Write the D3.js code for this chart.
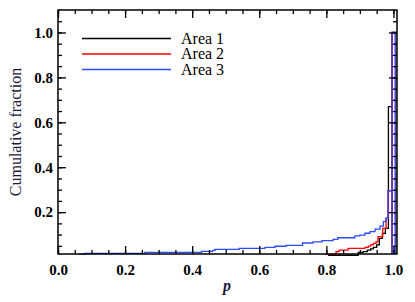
<!DOCTYPE html>
<html>
<head>
<meta charset="utf-8">
<script src="https://cdn.jsdelivr.net/npm/d3@7/dist/d3.min.js"></script>
<style>
  body { margin: 0; background: #fff; }
  .tick text { font-family: "Liberation Serif", serif; font-weight: bold; font-size: 15px; fill: #000; }
</style>
</head>
<body>
<div id="chart"></div>
<script>
const width = 415;
const height = 302;

// series: [p, cumulative fraction] step starts, last entry = final bin
const area1 = [[0.805,0.008],[0.895,0.021],[0.910,0.024],[0.922,0.031],[0.932,0.036],[0.940,0.043],[0.950,0.054],[0.958,0.083],[0.967,0.105],[0.976,0.128],[0.985,0.67],[0.996,1.0]];
const area2 = [[0.796,0.012],[0.829,0.024],[0.838,0.031],[0.865,0.039],[0.915,0.043],[0.925,0.049],[0.932,0.054],[0.940,0.061],[0.948,0.068],[0.954,0.091],[0.968,0.128],[0.978,0.173],[0.984,0.295],[0.996,1.0]];
const area3 = [[0.063,0.012],[0.080,0.0165],[0.259,0.021],[0.428,0.025],[0.461,0.030],[0.468,0.034],[0.540,0.039],[0.617,0.043],[0.647,0.048],[0.680,0.052],[0.729,0.0625],[0.760,0.068],[0.787,0.073],[0.820,0.079],[0.834,0.086],[0.885,0.094],[0.900,0.098],[0.915,0.106],[0.930,0.113],[0.945,0.124],[0.960,0.138],[0.970,0.158],[0.978,0.173],[0.984,0.295],[0.996,1.0]];
const pEnd = 1.006;

const seriesNames = ["Area 1", "Area 2", "Area 3"];
const seriesColors = ["#000000", "#ff0000", "#2b4bff"];
const seriesData = [area1, area2, area3];

const xMajor = [0, 0.2, 0.4, 0.6, 0.8, 1.0];
const yMajor = [0.2, 0.4, 0.6, 0.8, 1.0];
const xMinor = d3.range(0, 1.01, 0.05);
const yMinor = d3.range(0.05, 1.1, 0.05);

const svg = d3.select("#chart").append("svg")
  .attr("width", width)
  .attr("height", height);

const x = d3.scaleLinear().domain([0, 1.0106]).range([58, 397]);
const y = d3.scaleLinear().domain([0.0136, 1.1]).range([254, 10]);

// steps
const stepLine = d3.line().x(d => x(d[0])).y(d => y(d[1])).curve(d3.curveStepAfter);

seriesData.forEach((s, i) => {
  const last = s[s.length - 1];
  const pts = s.slice(0, -1).concat([[last[0], s[s.length - 2][1]]]);
  svg.append("path")
    .attr("d", stepLine(pts))
    .attr("fill", "none")
    .attr("stroke", seriesColors[i])
    .attr("stroke-width", 1.3);
  // last bin drawn as a bar
  svg.append("path")
    .attr("d", d3.line()([[x(last[0]), y.range()[0]], [x(last[0]), y(last[1])], [x(pEnd), y(last[1])], [x(pEnd), y.range()[0]]]))
    .attr("fill", "none")
    .attr("stroke", seriesColors[i])
    .attr("stroke-width", 1.3);
});

// axes
function addAxis(axisFn, pos, scale, vals, size, labels, pad) {
  const a = axisFn(scale).tickValues(vals).tickSize(-size).tickPadding(pad || 3);
  if (!labels) a.tickFormat("");
  else a.tickFormat(d3.format(".1f"));
  const g = svg.append("g").attr("transform", pos).call(a);
  g.select(".domain").remove();
  g.selectAll(".tick line").attr("stroke", "#000").attr("stroke-width", 1.3);
  return g;
}
addAxis(d3.axisBottom, "translate(0,254)", x, xMajor, 8, true, 10);
addAxis(d3.axisBottom, "translate(0,254)", x, xMinor, 4, false);
addAxis(d3.axisTop, "translate(0,10)", x, xMajor, 8, false);
addAxis(d3.axisTop, "translate(0,10)", x, xMinor, 4, false);
addAxis(d3.axisLeft, "translate(58,0)", y, yMajor, 8, true, 5);
addAxis(d3.axisLeft, "translate(58,0)", y, yMinor, 4, false);
addAxis(d3.axisRight, "translate(397,0)", y, yMajor, 8, false);
addAxis(d3.axisRight, "translate(397,0)", y, yMinor, 4, false);

svg.append("rect")
  .attr("x", 58).attr("y", 10)
  .attr("width", 339).attr("height", 244)
  .attr("fill", "none")
  .attr("stroke", "#000")
  .attr("stroke-width", 1.5);

// legend
seriesNames.forEach((name, i) => {
  const ly = 38.5 + i * 15.5;
  svg.append("line")
    .attr("x1", 82).attr("x2", 171)
    .attr("y1", ly).attr("y2", ly)
    .attr("stroke", seriesColors[i])
    .attr("stroke-width", 1.3);
  svg.append("text")
    .attr("x", 181).attr("y", ly + 5)
    .attr("font-family", "Liberation Serif, serif")
    .attr("font-size", 16)
    .attr("fill", "#000")
    .text(name);
});

// axis titles
svg.append("text")
  .attr("x", 227).attr("y", 291)
  .attr("text-anchor", "middle")
  .attr("font-family", "Liberation Serif, serif")
  .attr("font-style", "italic")
  .attr("font-weight", "bold")
  .attr("font-size", 16)
  .attr("fill", "#1a1a3a")
  .text("p");

svg.append("text")
  .attr("transform", "translate(21,132) rotate(-90)")
  .attr("text-anchor", "middle")
  .attr("font-family", "Liberation Serif, serif")
  .attr("font-size", 16)
  .attr("fill", "#1a1a3a")
  .text("Cumulative fraction");
</script>
</body>
</html>
